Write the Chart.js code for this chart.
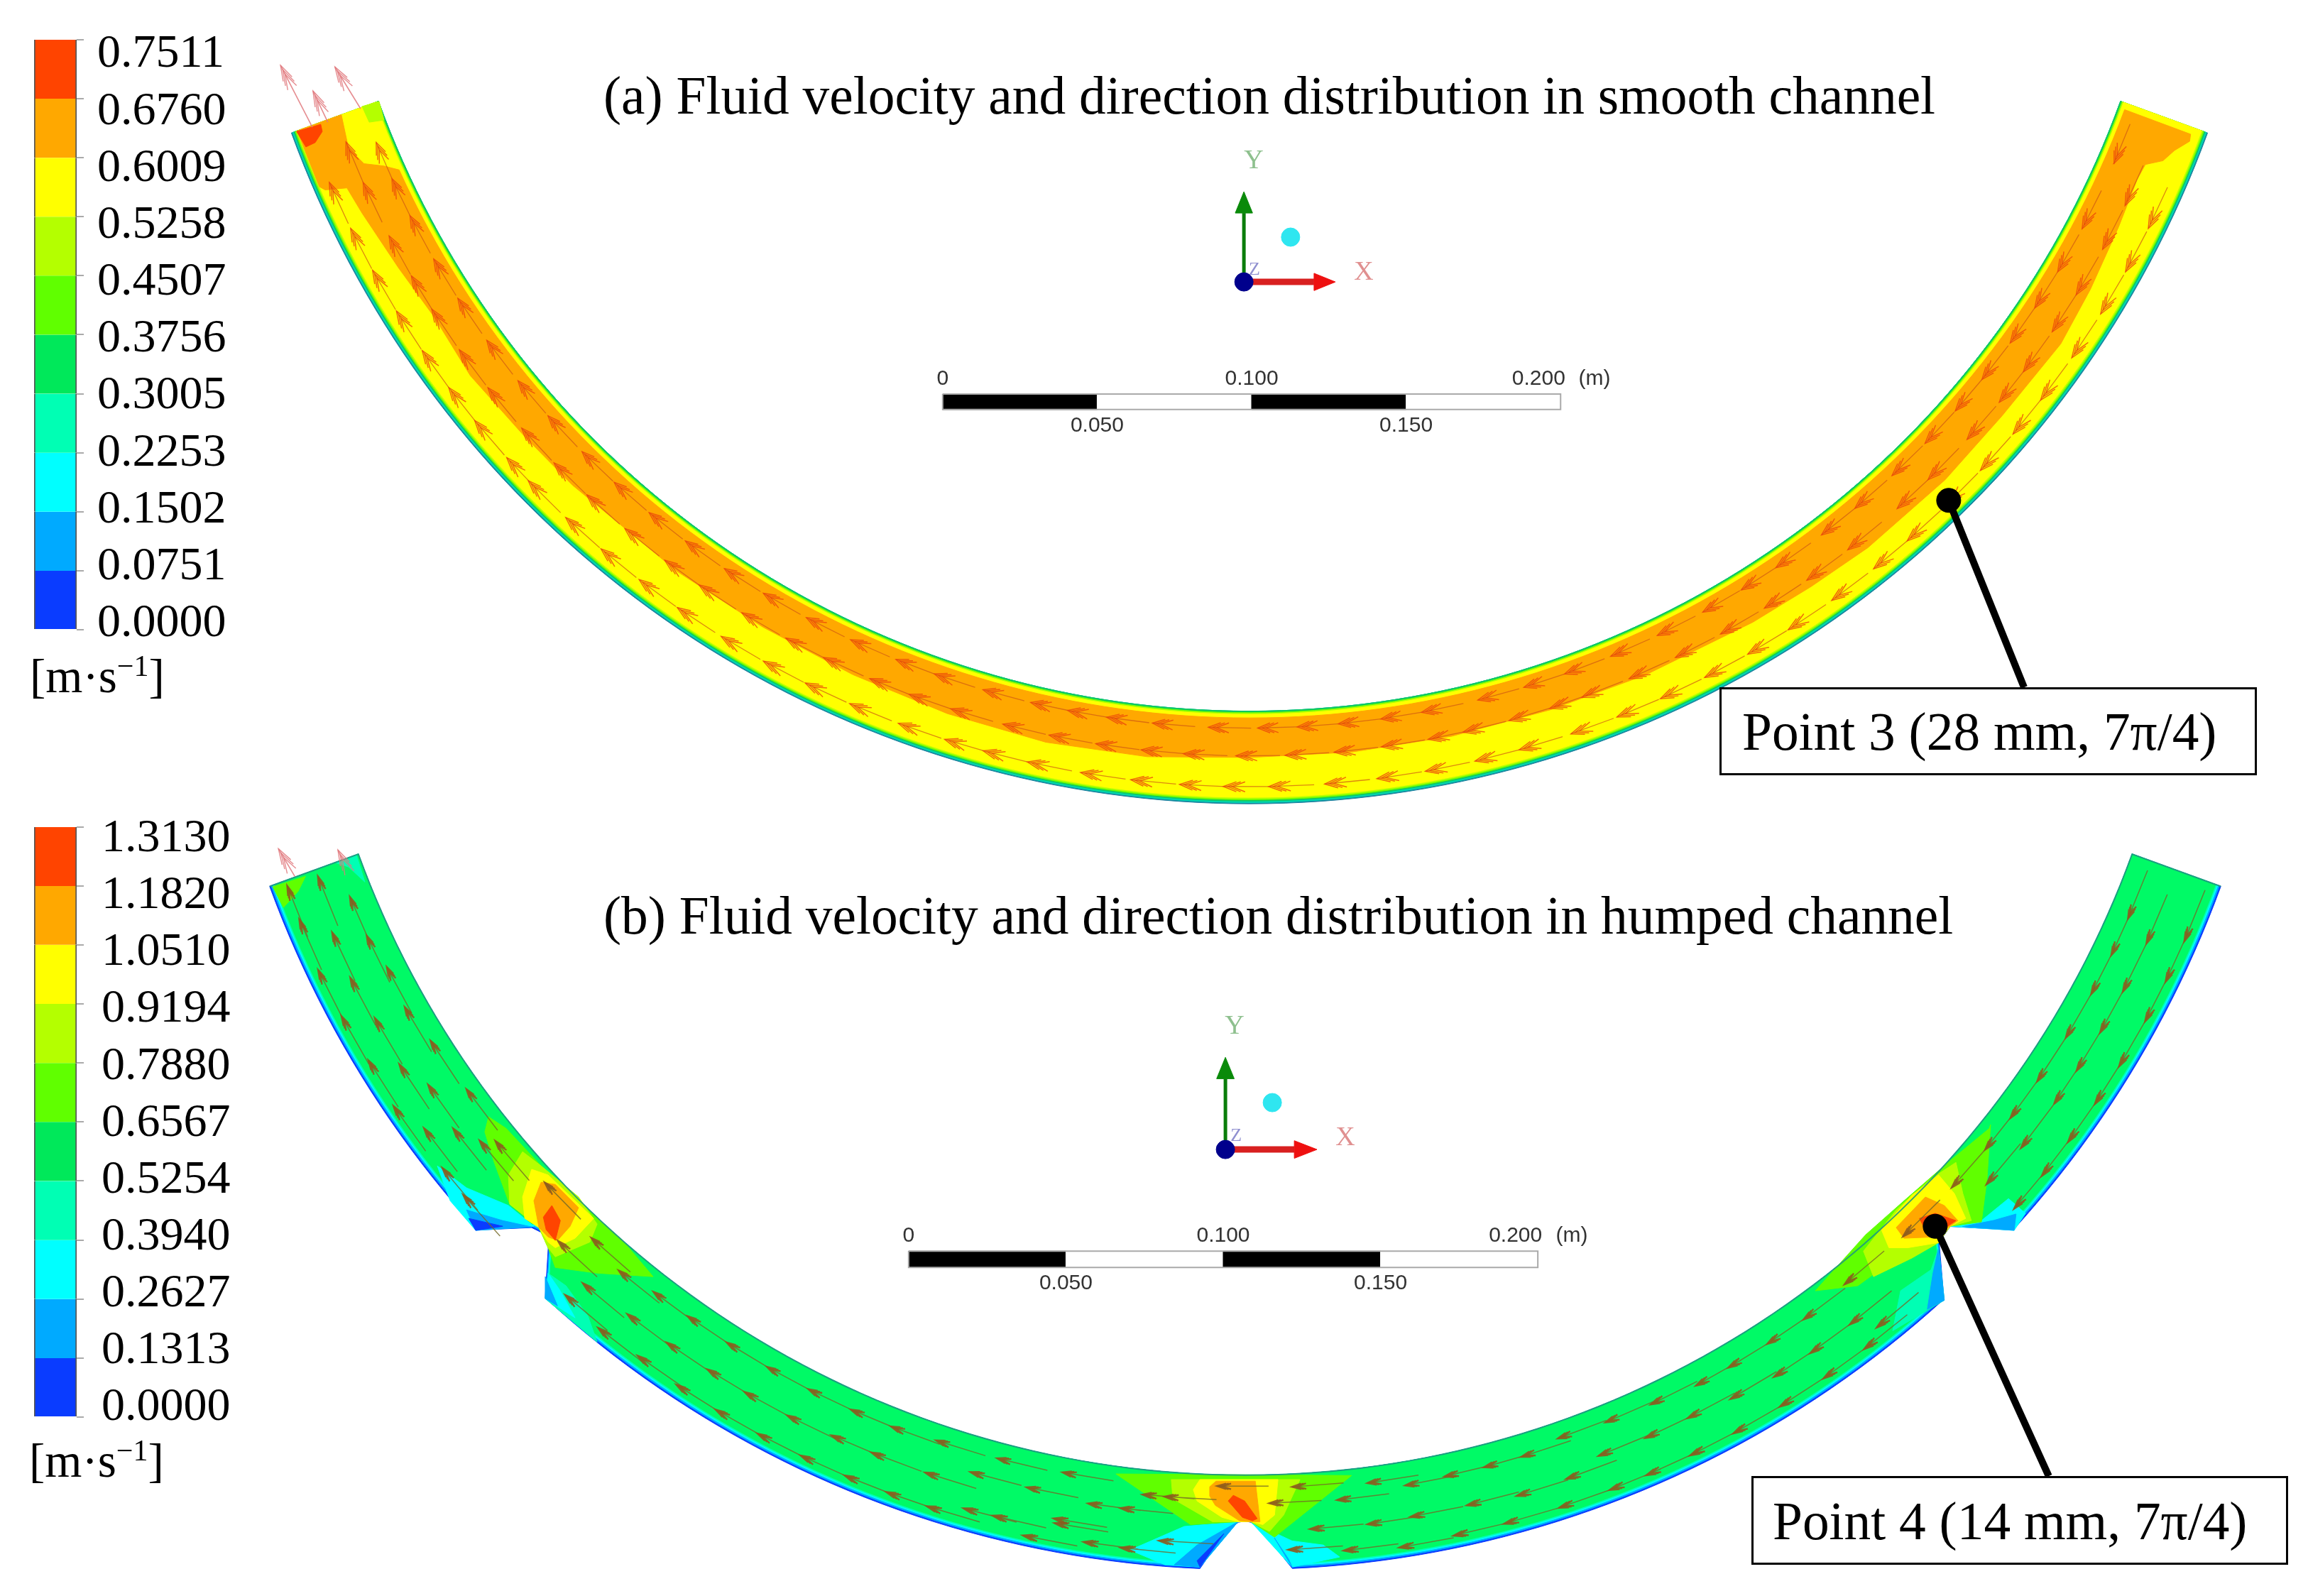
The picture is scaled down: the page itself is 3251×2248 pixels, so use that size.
<!DOCTYPE html>
<html>
<head>
<meta charset="utf-8">
<style>
  html,body{margin:0;padding:0;background:#fff;width:3251px;height:2248px;overflow:hidden}
  canvas{position:absolute}
  .txt{position:absolute;font-family:"Liberation Serif",serif;color:#000;white-space:nowrap}
  .title{font-size:75.4px;line-height:80px}
  .unit{font-size:67px;line-height:70px}
  .unit sup{font-size:42px;line-height:0}
  .box{border:3px solid #000;background:#fff;font-size:75.4px;box-sizing:border-box}
</style>
<script src="https://cdn.jsdelivr.net/npm/chart.js@4"></script>
</head>
<body>
<canvas id="panelA" width="3251" height="1140" style="left:0;top:0"></canvas>
<canvas id="panelB" width="3251" height="1108" style="left:0;top:1140px"></canvas>
<canvas id="barA" width="380" height="900" style="left:0;top:0"></canvas>
<canvas id="barB" width="380" height="880" style="left:0;top:1140px"></canvas>

<div class="txt title" style="left:850px;top:95px">(a) Fluid velocity and direction distribution in smooth channel</div>
<div class="txt title" style="left:850px;top:1250px">(b) Fluid velocity and direction distribution in humped channel</div>
<div class="txt unit" style="left:42px;top:917px">[m·s<sup>−1</sup>]</div>
<div class="txt unit" style="left:41px;top:2022px">[m·s<sup>−1</sup>]</div>
<div class="txt box" style="left:2422px;top:968px;width:757px;height:124px;line-height:120px;padding-left:29px">Point 3 (28 mm, 7π/4)</div>
<div class="txt box" style="left:2467px;top:2079px;width:756px;height:125px;line-height:121px;padding-left:27px">Point 4 (14 mm, 7π/4)</div>

<script>
// legend levels, top to bottom
const levelsA = [0.7511,0.6760,0.6009,0.5258,0.4507,0.3756,0.3005,0.2253,0.1502,0.0751,0];
const levelsB = [1.3130,1.1820,1.0510,0.9194,0.7880,0.6567,0.5254,0.3940,0.2627,0.1313,0];
const bandColors = ['#ff4400','#ffa800','#ffff00','#b4ff00','#60ff00','#00e85a','#00ffb4','#00ffff','#00aaff','#0a3cff'];
const channelGreen = '#00fa66';

// scale bar ticks in mm
const scaleTicks = [0,50,100,150,200];
const scaleNames = ['0','0.050','0.100','0.150','0.200'];

// channel: inner wall radius 300 mm, 30 mm wide, angle in degrees from the bottom
const innerRadius = 300;
const channelEnd = 70;

// smooth channel, wall layers [from mm, to mm, colour]
const wallLayersA = [[0,30,'#1a84a0'],[0,29.6,'#00d8b0'],[0,29.1,'#10c860'],[0.5,28.7,'#70ff00'],[0.8,28.3,'#c0ff00'],[1.1,27.9,'#ffff00']];
// orange band limits [angle, mm]
const orangeOuterA = [[69.6,25],[69.2,25.5],[68.4,22],[67.6,19.8],[67,15],[66,14.5],[63,15.7],[59,17.5],[55.4,19],[50,18],[45,18.4],[39,18],[35,17],[31,16.4],[24,15.5],[18,15],[12,15],[6,15],[0,15],[-6,16.5],[-12,17],[-18,16.3],[-24,15.5],[-30,15],[-36,15],[-44,15.4],[-48,15.6],[-52.8,16.6],[-56.8,15.2],[-60.4,16.8],[-64.2,19],[-65.9,20],[-66.3,26.7],[-66.6,28],[-70,28]];
const orangeInnerEndA = [[-66.2,6.2],[-66.8,11.8],[-68,14.5],[-70,12.8]];
// outlet patches, x/y in mm
const redCornerA = [[-308.4,-112.4],[-300.6,-110.1],[-300.1,-112.4],[-302.4,-116],[-305.4,-117.4]];
const limeCornerA = [[-281.7,-102.7],[-287.2,-104.3],[-284.9,-109.4],[-280.1,-108.7]];
// arrow tips [angle] per row
const rowA1 = [66.3,61.9,58.9,56.3,53.7,50.9,48.4,45.7,42.9,39.9,37.3,33.9,31.4,28.7,25.6,22.5,19.5,16.9,14,10.5,8,5.4,2.9,0.5,-2.5,-5.9,-8.7,-11.1,-13.4,-16.4,-19.5,-22,-25,-28,-31,-33.8,-36.7,-39.5,-42.3,-45,-48,-50.8,-53.9,-57,-59.8,-62.8,-65.3,-67.7];
const rowA2 = [64.3,61.4,58.3,55.7,52.8,50.5,47.6,44.3,41.8,38,35,32,29,26,23,20,18,15.5,12.7,10.6,7.8,5,2.1,-0.8,-3.9,-6.4,-9.1,-11.9,-14.7,-17.9,-20.5,-23,-26,-28.5,-31.5,-34.5,-37,-40,-43,-45.7,-48.5,-51.6,-54.4,-57.3,-59.6,-62.3,-65.8,-68.4];
const rowA3 = [63.7,60.9,58.1,55.1,52.1,49.6,46.8,44,41,38.5,35.5,32.5,29.8,27,24.2,21.5,18.7,15.6,13,10.1,7.3,4.3,1.1,-1.5,-4,-6.8,-9.7,-12.8,-15.4,-17.7,-20.5,-23.5,-26.3,-29,-31.8,-34.8,-37.5,-40.3,-43,-46,-47.8,-50.6,-53,-55.6,-58.3,-61,-63.7,-66.6];
const rowMmA = [5.5,14.5,24.5];
// pink arrows leaving the outlet, [tip x, tip y, tail x, tail y] in mm
const exitArrowsA = [[-313.6,-91,-303.3,-111],[-296,-91.5,-287.7,-105],[-303.1,-99.3,-298.3,-109.4]];
const exitArrowsB = [[-307.3,-100.9,-302.1,-109.7],[-288.4,-101.3,-286.8,-104.5]];

// humped channel outer wall profile [angle, mm]
const humpRight = [[47.7,30],[45.4,14.7],[44.3,15.8],[42.3,30]];
const humpCentre = [[2.6,30],[0.86,17.1],[0.33,15],[0,14.6],[-0.4,15],[-1.2,18.7],[-2.5,30]];
const humpLeft = [[-42.4,30],[-44.2,17.8],[-44.9,15.4],[-45.7,16.9],[-47.7,30]];
// [offset from wall, colour]
const wallLayersB = [[0,bandColors[9]],[0.5,bandColors[8]],[1,bandColors[7]],[1.4,bandColors[6]],[1.8,channelGreen]];

// contour patches of the humped channel, [band, x/y points in mm]
const patchesB = [
  // outlet
  [4,[[-309.1,-113],[-298.7,-109.7],[-301,-114.4],[-305.7,-119.6]]],
  [6,[[-289,-105.4],[-282.5,-102.9],[-279.8,-111.5],[-285,-106.7]]],
  // left hump, cold side
  [7,[[-256.8,-201.7],[-247.5,-208.7],[-234.2,-214.3],[-226.1,-220.9],[-244.6,-222.2],[-252.7,-212.8]]],
  [8,[[-247.5,-215.7],[-236,-219.1],[-226.8,-221.1],[-244.6,-222.2]]],
  [9,[[-246.8,-218.4],[-236,-220.9],[-244.6,-222.2]]],
  [6,[[-221.6,-235.8],[-215.9,-239.8],[-208.9,-249.5],[-206,-257.7],[-222.5,-243.9]]],
  [7,[[-221.6,-235.8],[-218,-241],[-213,-250],[-222.5,-243.9]]],
  [8,[[-222.5,-236.9],[-218.6,-246.2],[-222.5,-243.9]]],
  // left hump, hot side
  [4,[[-240.5,-186.1],[-234.9,-189.8],[-221.1,-204.6],[-209.6,-215],[-197.9,-225.4],[-188.2,-236.9],[-206,-235.8],[-219.3,-234],[-221.6,-227.7],[-224.5,-221.3],[-233.8,-213.9],[-238.9,-200.1],[-241.7,-190.9]]],
  [3,[[-234.2,-204.6],[-229.7,-197.2],[-223.8,-201.7],[-211.9,-211.6],[-206,-220.2],[-208.3,-225.9],[-219.3,-230.6],[-221.6,-227.7],[-224.5,-221.3],[-233.8,-213.9]]],
  [2,[[-229.7,-211.6],[-226.8,-202.8],[-221.6,-204.6],[-207.1,-218.4],[-213,-224.7],[-219.3,-227.7],[-221.6,-225.9],[-224.5,-221.3],[-229,-218.4]]],
  [1,[[-226.1,-212.8],[-223.8,-206.9],[-219.3,-207.6],[-211.9,-215],[-214.6,-220.9],[-218.6,-225.4],[-221.6,-224.3],[-224.5,-221.3]]],
  [0,[[-220.4,-214.3],[-217.7,-219.1],[-219.3,-225.4],[-222.2,-222],[-223.1,-218]]],
  // right hump, cold side
  [7,[[234,-219.1],[242.6,-212.1],[248,-216.8],[244.4,-222.2],[224,-220.9]]],
  [8,[[238,-219],[245,-217],[244.4,-222.2],[228,-221]]],
  [6,[[205.8,-254.1],[208.3,-241.4],[218,-234.7],[220.4,-227.7],[222.2,-244.4]]],
  [8,[[218.6,-235.8],[220.4,-227.7],[222.2,-244.4],[216.8,-247.3]]],
  // right hump, hot side
  [4,[[236.9,-188.6],[235.8,-205.8],[234,-219.5],[224,-220.9],[220.4,-226.1],[208.3,-229.9],[194.7,-239.8],[181.2,-241.4],[197.2,-223.6],[209.4,-212.8],[224,-200.1],[236.5,-189.8]]],
  [3,[[225.9,-200.6],[228.1,-210.5],[230.8,-219.1],[224,-220.9],[220.4,-226.1],[211.9,-231],[199.7,-236.9],[196.5,-228.8],[206.9,-215.7],[218,-205.8]]],
  [2,[[220.4,-204.6],[225.4,-210.5],[229,-218.4],[224,-220.9],[220.4,-226.1],[210.7,-227.7],[204.6,-227.7],[202.2,-222],[211.9,-211]]],
  [1,[[216.2,-211.6],[222.2,-214.3],[226.5,-219.1],[224,-220.9],[219.3,-224.3],[209.4,-224.7],[206.9,-221.3]]],
  [0,[[214.3,-218.4],[219.3,-216.8],[225.9,-219.1],[221.6,-222],[216.2,-222]]],
  // centre hump, cold side
  [7,[[-36.6,-323.8],[-19.4,-316.3],[-2.3,-314.8],[-14.4,-329.2],[-25.5,-328.5]]],
  [8,[[-15.3,-322.2],[-2.3,-314.8],[-14.4,-329.2],[-22.6,-328.5]]],
  [9,[[-15.3,-327.2],[-6.8,-318.6],[-14.4,-329.2]]],
  [7,[[1.8,-314.8],[14.9,-320.9],[24.8,-322.2],[30,-326],[14.9,-329.2]]],
  [8,[[9.3,-320],[13.8,-326.7],[14.9,-329.2]]],
  // centre hump, hot side
  [4,[[-41.1,-299.6],[33.8,-300.1],[9.3,-319.7],[1.8,-314.8],[-0.2,-314.1],[-2.3,-314.8],[-17.4,-315.7]]],
  [3,[[-23.5,-301.4],[17.4,-301.4],[12.2,-312.7],[7.7,-317.9],[1.8,-314.8],[-2.3,-314.8],[-10.4,-314.8],[-23,-307.5]]],
  [2,[[-16.5,-304.6],[-14.4,-301.4],[10.4,-301.4],[9.3,-312.7],[5.6,-315.7],[1.8,-314.8],[-2.3,-314.8],[-7.4,-313.4],[-15.3,-308.2]]],
  [1,[[-11.3,-303.7],[-9.3,-301.9],[3.2,-301.9],[4.7,-314.8],[1.8,-314.8],[-1.8,-314.5],[-9.5,-309.6],[-11.3,-306.6]]],
  [0,[[-3.8,-306.4],[-0.2,-308.2],[3.8,-313.8],[2.3,-314.5],[-0.9,-313.4],[-5.4,-308.2]]]
];

// arrows of the humped channel [tip angle, mm]
const arrowsInnerB = [[66.3,6.4],[63.9,6.5],[61.3,6.5],[58.3,6.5],[55.2,6.5],[52.5,6.5],[50.1,6.5],[47.1,6.5],[43,6.5],[38.5,5.9],[35.3,7],[32.7,7],[30,7],[27.8,7],[24.9,6],[22,5.5],[19,5],[16.6,7],[14.3,7],[11.9,7],[9.5,7.5],[7.3,5],[2.8,4.1],[-1.7,3.6],[-4.8,7.9],[-6.1,7.9],[-11,4.7],[-15,5],[-18.8,5.2],[-21.6,6],[-24.2,6],[-27,6],[-29.8,6],[-32.6,6],[-35.4,6],[-37.9,6.3],[-40.3,8],[-42.8,6],[-47.1,4],[-50.9,7.2],[-54.4,4.5],[-58,5.4],[-60.5,7],[-63.1,6],[-65.3,7.4],[-67.8,7.4]];
const arrowsMidB = [[65.4,15],[62.3,15],[59.6,15],[57,15],[54.7,15],[51.5,15],[48.6,14],[37.3,17],[34.5,17],[32,17],[29.2,16],[26.5,15],[23.8,15],[20.9,14.6],[18.7,18],[15.7,18.5],[12.8,17.5],[9.5,17.6],[7,18],[5.4,9.3],[3.7,17.8],[1.4,9],[-7.3,13],[-9.2,13],[-11,19.6],[-12.9,11.7],[-16.3,11.5],[-18.8,16],[-22.1,16],[-24.6,16],[-27.4,16.5],[-30.2,16.5],[-32.7,16.5],[-35.5,16.7],[-38.3,17],[-41.4,18.5],[-44.1,14],[-51.5,11],[-53,15.3],[-55.9,13.7],[-57.8,17.8],[-60.8,17],[-63.5,17.9],[-66.3,17],[-69.6,14.5]];
const arrowsOuterB = [[66.4,25.7],[63.9,25.7],[61.4,25.7],[58.5,25.7],[56,25.7],[53.4,25.7],[51,25.7],[48.6,25.7],[38.4,23],[37.1,26],[34.3,26],[31.4,26],[28.4,26],[25.7,26],[23,26],[20.8,26],[17.8,26],[14.6,26],[11.7,26],[8.6,26.7],[5.5,25.5],[2.4,24],[-4.9,22],[-7,25.5],[-9.1,25.3],[-10.9,21],[-12.5,26.9],[-14.4,23],[-16.1,23.2],[-18.1,26],[-20.5,26],[-23,26],[-25.7,26],[-28.4,26],[-31.1,26],[-33.7,26],[-36.4,25.5],[-39.1,26.2],[-41.7,25],[-49.7,26],[-51.6,25.7],[-54,22.7],[-56,26.6],[-58.9,25.5],[-61.8,26],[-64.7,26],[-67.7,25],[-69.7,24.7]];

// triads, callouts: x/y in mm from the arc centre
const triadA = {x:-1.8,y:-161.1,yTip:-131.9,yHead:-138.8,xTip:27.8,xHead:20.9,ball:[13.3,-146.6],head:2.8};
const triadB = {x:-6.3,y:-196.5,yTip:-167.2,yHead:-174,xTip:22.8,xHead:15.6,ball:[8.6,-181.6],head:2.8};
const scaleBarA = {x:-99.3,top:-197.4,bottom:-202.4,upper:-192.5,lower:-207.7,nameShift:-7.1,unit:111.7};
const scaleBarB = {x:-107,top:-228.8,bottom:-234,upper:-224,lower:-239.1,nameShift:-7.1,unit:103.8};
const calloutA = [[226.3,-231.8],[250.7,-292.3]];
const calloutB = [[219.3,-220.9],[255.4,-300.3]];

function polar(theta,mm){
  const a = theta*Math.PI/180, r = innerRadius+mm;
  return [r*Math.sin(a),-r*Math.cos(a)];
}
// wall samples between two angles
function span(from,to,mm){
  const out = [], n = Math.ceil(Math.abs(to-from));
  for(let i=0;i<=n;i++) out.push([from+(to-from)*i/n,mm]);
  return out;
}
const toXY = list => list.map(p=>polar(p[0],p[1]));

function addPoly(list,pts,color){
  const closed = pts.concat([pts[0]]);
  list.push({data:closed.map(p=>({x:p[0],y:p[1]})),showLine:true,fill:'shape',backgroundColor:color,borderColor:color,borderWidth:1,pointRadius:0,order:-list.length});
}
function addLine(list,pts,color,width){
  list.push({data:pts.map(p=>p?{x:p[0],y:p[1]}:{x:NaN,y:NaN}),showLine:true,fill:false,borderColor:color,borderWidth:width,pointRadius:0,order:-list.length});
}
function addDot(list,p,color,radius){
  list.push({data:[{x:p[0],y:p[1]}],showLine:false,backgroundColor:color,borderColor:color,pointRadius:radius,order:-list.length});
}

// stem and nested chevrons of the flow arrows
function addArrows(list,tips,stemColor,headColor,stem,barbs,back,spread,stemWidth,headWidth){
  const stems = [], heads = [];
  tips.forEach(([t,mm])=>{
    stems.push(polar(t,mm),polar(t+stem,mm),null);
    barbs.forEach(b=>{
      heads.push(polar(t+b+back,mm+spread),polar(t+b,mm),polar(t+b+back,mm-spread),null);
    });
  });
  addLine(list,stems,stemColor,stemWidth);
  addLine(list,heads,headColor,headWidth);
}
function addExit(list,arrows){
  const color = 'rgba(225,120,125,.85)';
  arrows.forEach(([tx,ty,bx,by])=>{
    addLine(list,[[tx,ty],[bx,by]],color,1.6);
    const ux=(bx-tx),uy=(by-ty),len=Math.hypot(ux,uy),ax=ux/len,ay=uy/len;
    [0,1.6,3.2].forEach(s=>{
      addLine(list,[[tx+ax*(s+5)-ay*1.6,ty+ay*(s+5)+ax*1.6],[tx+ax*s,ty+ay*s],[tx+ax*(s+5)+ay*1.6,ty+ay*(s+5)-ax*1.6]],color,1.4);
    });
  });
}
function addTriad(list,t){
  addLine(list,[[t.x,t.y],[t.x,t.yHead]],'#0a7d0a',5);
  addPoly(list,[[t.x-t.head,t.yHead],[t.x,t.yTip],[t.x+t.head,t.yHead]],'#0a8a0a');
  addLine(list,[[t.x,t.y],[t.xHead,t.y]],'#d82020',9);
  addPoly(list,[[t.xHead,t.y+t.head],[t.xTip,t.y],[t.xHead,t.y-t.head]],'#ee1010');
  addDot(list,[t.x,t.y],'#00008c',13);
  addDot(list,t.ball,'#2fe6f0',13);
}
function addScaleBar(list,s){
  for(let i=0;i<scaleTicks.length-1;i++){
    const x0=s.x+scaleTicks[i],x1=s.x+scaleTicks[i+1];
    addPoly(list,[[x0,s.top],[x1,s.top],[x1,s.bottom],[x0,s.bottom]],i%2?'#ffffff':'#000000');
  }
  addLine(list,[[s.x,s.top],[s.x+200,s.top],[s.x+200,s.bottom],[s.x,s.bottom],[s.x,s.top]],'#aaaaaa',2);
}
function addCallout(list,c){
  addLine(list,c,'#000000',10);
  addDot(list,c[0],'#000000',17);
}
function scaleTexts(s){
  const f = '30px "Liberation Sans"';
  return scaleTicks.map((v,i)=>({
    x: s.x+v+(i===4?s.nameShift:0),
    y: i%2?s.lower:s.upper,
    text: scaleNames[i],font:f,color:'#333'
  })).concat([{x:s.unit,y:s.upper,text:'(m)',font:f,color:'#333'}]);
}
function triadTexts(yl,xl,zl){
  return [
    {x:yl[0],y:yl[1],text:'Y',font:'38px "Liberation Serif"',color:'#8ec08e'},
    {x:xl[0],y:xl[1],text:'X',font:'38px "Liberation Serif"',color:'#e09090'},
    {x:zl[0],y:zl[1],text:'Z',font:'26px "Liberation Serif"',color:'#9090d0'}
  ];
}

// text inside a panel goes through the panel scales
const panelText = {
  id:'panelText',
  afterDraw(chart,args,opts){
    const c = chart.ctx;
    c.save();
    c.textAlign='center';c.textBaseline='middle';
    (opts.items||[]).forEach(t=>{
      c.font=t.font;c.fillStyle=t.color;
      c.fillText(t.text,chart.scales.x.getPixelForValue(t.x),chart.scales.y.getPixelForValue(t.y));
    });
    c.restore();
  }
};

function panelChart(id,datasets,xr,yr,items){
  return new Chart(document.getElementById(id),{
    type:'scatter',
    data:{datasets},
    plugins:[panelText],
    options:{
      responsive:false,animation:false,events:[],
      layout:{padding:0,autoPadding:false},
      plugins:{legend:{display:false},tooltip:{enabled:false},panelText:{items}},
      scales:{
        x:{type:'linear',display:false,min:xr[0],max:xr[1]},
        y:{type:'linear',display:false,min:yr[0],max:yr[1]}
      }
    }
  });
}

// smooth channel
const dsA = [];
wallLayersA.forEach(([lo,hi,color])=>{
  addPoly(dsA,toXY(span(-channelEnd,channelEnd,lo).concat(span(channelEnd,-channelEnd,hi))),color);
});
addPoly(dsA,toXY(orangeOuterA.concat(orangeInnerEndA.slice().reverse(),span(-65.6,69.6,2.2))),bandColors[1]);
addPoly(dsA,redCornerA,bandColors[0]);
addPoly(dsA,limeCornerA,bandColors[3]);
[rowA1,rowA2,rowA3].forEach((row,i)=>{
  addArrows(dsA,row.map(t=>[t,rowMmA[i]]),'rgba(205,85,20,.7)','rgba(235,70,10,.8)',2.6,[0,0.25,0.5],0.75,1.6,1.3,1.5);
});
addExit(dsA,exitArrowsA);
addTriad(dsA,triadA);
addScaleBar(dsA,scaleBarA);
addCallout(dsA,calloutA);
panelChart('panelA',dsA,[-404.4,342.6],[-331.8,-69.85],
  scaleTexts(scaleBarA).concat(triadTexts([1.4,-122],[37,-158.1],[1.6,-157.2])));

// humped channel
function outerWallB(off){
  const shift = l => l.map(p=>[p[0],p[1]-off]);
  return [].concat(span(channelEnd,47.7,30-off),shift(humpRight),span(42.3,2.6,30-off),shift(humpCentre),
    span(-2.5,-42.4,30-off),shift(humpLeft),span(-47.7,-channelEnd,30-off));
}
const dsB = [];
wallLayersB.forEach(([off,color])=>{
  addPoly(dsB,toXY(span(-channelEnd,channelEnd,0).concat(outerWallB(off))),color);
});
patchesB.forEach(([band,pts])=>addPoly(dsB,pts,bandColors[band]));
addLine(dsB,toXY([[-channelEnd,30]].concat(span(-channelEnd,channelEnd,0),[[channelEnd,30]])),'rgba(30,150,130,.9)',2);
[arrowsInnerB,arrowsMidB,arrowsOuterB].forEach(row=>{
  addArrows(dsB,row,'rgba(115,105,40,.8)','rgba(140,90,30,.9)',3.1,[0,0.15,0.3],0.55,0.9,1.5,2.3);
});
addExit(dsB,exitArrowsB);
addTriad(dsB,triadB);
addScaleBar(dsB,scaleBarB);
addCallout(dsB,calloutB);
panelChart('panelB',dsB,[-395.8,337.8],[-338.4,-88.4],
  scaleTexts(scaleBarB).concat(triadTexts([-3.4,-157.5],[31.8,-192.9],[-2.9,-192.2])));

// colour bars, the printed labels sit on their own axis because they do not line up with the ticks
function colourBar(id,levels,labelMin,labelMax,pad){
  return new Chart(document.getElementById(id),{
    type:'bar',
    data:{labels:[''],datasets:bandColors.map((c,i)=>({
      data:[[levels[i+1],levels[i]]],backgroundColor:c,borderColor:'#555',
      borderWidth:{left:2,right:2},borderSkipped:false,grouped:false,
      barPercentage:1,categoryPercentage:1,yAxisID:'y'
    }))},
    options:{
      responsive:false,animation:false,events:[],
      layout:{padding:{left:48,top:pad.top,bottom:pad.bottom,right:0},autoPadding:false},
      plugins:{legend:{display:false},tooltip:{enabled:false}},
      scales:{
        x:{display:false},
        y:{position:'right',min:0,max:levels[0],
          afterBuildTicks:s=>{s.ticks=levels.map(v=>({value:v}));},
          afterFit:s=>{s.width=10;s.paddingTop=0;s.paddingBottom=0;},
          border:{display:false},
          grid:{drawOnChartArea:false,tickLength:10,color:'#aaa',lineWidth:2},
          ticks:{display:false}},
        labels:{position:'right',min:labelMin,max:labelMax,
          afterBuildTicks:s=>{s.ticks=levels.map(v=>({value:v}));},
          afterFit:s=>{s.width=262;s.paddingTop=0;s.paddingBottom=0;},
          border:{display:false},
          grid:{display:false,drawTicks:false},
          ticks:{autoSkip:false,padding:pad.label,color:'#000',font:{family:'"Liberation Serif"',size:66},callback:v=>v.toFixed(4)}}
      }
    }
  });
}
colourBar('barA',levelsA,-0.0075,0.7708,{top:56,bottom:13,label:19});
colourBar('barB',levelsB,-0.0212,1.3408,{top:25,bottom:24,label:25});
</script>
</body>
</html>
